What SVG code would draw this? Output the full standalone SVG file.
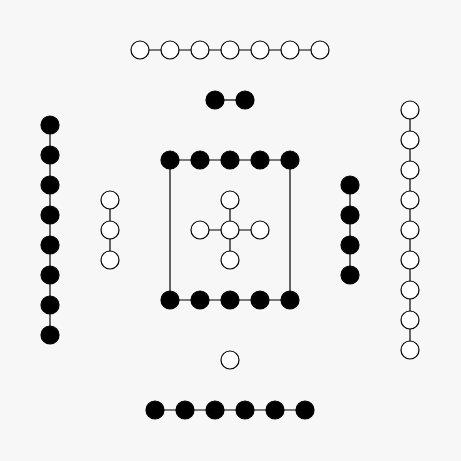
<svg xmlns="http://www.w3.org/2000/svg" width="461" height="461" viewBox="0 0 461 461">
<style>
.w{fill:#fff;stroke:#000;stroke-width:1.2}
.b{fill:#000;stroke:#000;stroke-width:1.2}
#connectors line{stroke:#000;stroke-width:1.2}
</style>
<rect width="461" height="461" fill="#f7f7f7"/>
<g id="connectors">
<line x1="140" y1="50" x2="320" y2="50"/>
<line x1="215" y1="100" x2="245" y2="100"/>
<line x1="50" y1="125" x2="50" y2="335"/>
<line x1="110" y1="200" x2="110" y2="260"/>
<line x1="170" y1="160" x2="290" y2="160"/>
<line x1="170" y1="300" x2="290" y2="300"/>
<line x1="170" y1="160" x2="170" y2="300"/>
<line x1="290" y1="160" x2="290" y2="300"/>
<line x1="230" y1="200" x2="230" y2="260"/>
<line x1="200" y1="230" x2="260" y2="230"/>
<line x1="350" y1="185" x2="350" y2="275"/>
<line x1="410" y1="110" x2="410" y2="350"/>
<line x1="155" y1="410" x2="305" y2="410"/>
</g>
<g id="n7">
<circle class="w" cx="140" cy="50" r="9"/><circle class="w" cx="170" cy="50" r="9"/><circle class="w" cx="200" cy="50" r="9"/><circle class="w" cx="230" cy="50" r="9"/><circle class="w" cx="260" cy="50" r="9"/><circle class="w" cx="290" cy="50" r="9"/><circle class="w" cx="320" cy="50" r="9"/>
</g>
<g id="n2">
<circle class="b" cx="215" cy="100" r="9"/><circle class="b" cx="245" cy="100" r="9"/>
</g>
<g id="n8">
<circle class="b" cx="50" cy="125" r="9"/><circle class="b" cx="50" cy="155" r="9"/><circle class="b" cx="50" cy="185" r="9"/><circle class="b" cx="50" cy="215" r="9"/><circle class="b" cx="50" cy="245" r="9"/><circle class="b" cx="50" cy="275" r="9"/><circle class="b" cx="50" cy="305" r="9"/><circle class="b" cx="50" cy="335" r="9"/>
</g>
<g id="n3">
<circle class="w" cx="110" cy="200" r="9"/><circle class="w" cx="110" cy="230" r="9"/><circle class="w" cx="110" cy="260" r="9"/>
</g>
<g id="n10">
<circle class="b" cx="170" cy="160" r="9"/><circle class="b" cx="200" cy="160" r="9"/><circle class="b" cx="230" cy="160" r="9"/><circle class="b" cx="260" cy="160" r="9"/><circle class="b" cx="290" cy="160" r="9"/>
<circle class="b" cx="170" cy="300" r="9"/><circle class="b" cx="200" cy="300" r="9"/><circle class="b" cx="230" cy="300" r="9"/><circle class="b" cx="260" cy="300" r="9"/><circle class="b" cx="290" cy="300" r="9"/>
</g>
<g id="n5">
<circle class="w" cx="230" cy="200" r="9"/><circle class="w" cx="200" cy="230" r="9"/><circle class="w" cx="230" cy="230" r="9"/><circle class="w" cx="260" cy="230" r="9"/><circle class="w" cx="230" cy="260" r="9"/>
</g>
<g id="n4">
<circle class="b" cx="350" cy="185" r="9"/><circle class="b" cx="350" cy="215" r="9"/><circle class="b" cx="350" cy="245" r="9"/><circle class="b" cx="350" cy="275" r="9"/>
</g>
<g id="n9">
<circle class="w" cx="410" cy="110" r="9"/><circle class="w" cx="410" cy="140" r="9"/><circle class="w" cx="410" cy="170" r="9"/><circle class="w" cx="410" cy="200" r="9"/><circle class="w" cx="410" cy="230" r="9"/><circle class="w" cx="410" cy="260" r="9"/><circle class="w" cx="410" cy="290" r="9"/><circle class="w" cx="410" cy="320" r="9"/><circle class="w" cx="410" cy="350" r="9"/>
</g>
<g id="n1">
<circle class="w" cx="230" cy="360" r="9"/>
</g>
<g id="n6">
<circle class="b" cx="155" cy="410" r="9"/><circle class="b" cx="185" cy="410" r="9"/><circle class="b" cx="215" cy="410" r="9"/><circle class="b" cx="245" cy="410" r="9"/><circle class="b" cx="275" cy="410" r="9"/><circle class="b" cx="305" cy="410" r="9"/>
</g>
</svg>
